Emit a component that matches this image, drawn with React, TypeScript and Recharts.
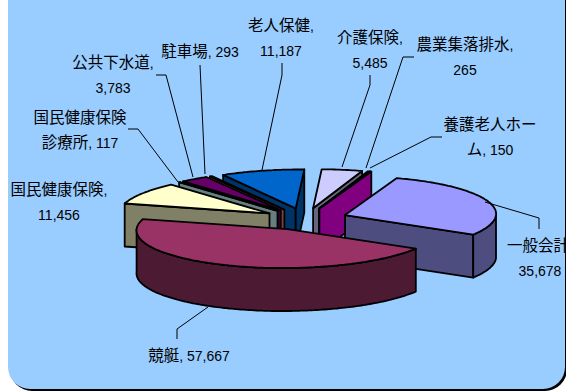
import React from "react";
import { PieChart, Pie } from "recharts";

// Municipal accounts, clockwise from the upper right of the pie
const names = [
  "一般会計",
  "競艇",
  "国民健康保険",
  "国民健康保険診療所",
  "公共下水道",
  "駐車場",
  "老人保健",
  "介護保険",
  "農業集落排水",
  "養護老人ホーム",
];
const amounts = [35678, 57667, 11456, 117, 3783, 293, 11187, 5485, 265, 150];
const topColors = ["#9999FF", "#993366", "#FFFFCC", "#CCFFFF", "#660066", "#FF8080", "#0066CC", "#CCCCFF", "#000080", "#FF00FF"];
const wallColors = ["#4D4D80", "#4D1A33", "#808066", "#668080", "#330033", "#804040", "#003366", "#666680", "#000040", "#800080"];

// Back slices are painted before the ones nearer the viewer
const paintOrder = [6, 7, 8, 9, 5, 4, 3, 2, 0, 1];

const rows = names.map((name, i) => ({
  name,
  value: amounts[i],
  top: topColors[i],
  wall: wallColors[i],
}));

// Label text lines and leader routes, indexed like the arrays above
const labelLines = [
  ["一般会計,", "35,678"],
  ["競艇, 57,667"],
  ["国民健康保険,", "11,456"],
  ["国民健康保険", "診療所, 117"],
  ["公共下水道,", "3,783"],
  ["駐車場, 293"],
  ["老人保健,", "11,187"],
  ["介護保険,", "5,485"],
  ["農業集落排水,", "265"],
  ["養護老人ホー", "ム, 150"],
];
const labelCenters = [
  [540, 246], [189, 356], [59, 190], [80, 118], [113, 63],
  [200, 52], [281, 26], [370, 38], [465, 45], [490, 125],
];
const leaderRoutes = [
  [[485, 202], [539, 218], [539, 229]],
  [[208, 307], [177, 329], [177, 339]],
  [],
  [[178, 182], [138, 129], [128, 129]],
  [[193, 177], [166, 75], [156, 75]],
  [[205, 174], [200, 65]],
  [[262, 170], [282, 75], [282, 63]],
  [[342, 167], [370, 85], [370, 75]],
  [[366, 168], [403, 57], [414, 57]],
  [[370, 168], [431, 137], [442, 137]],
];

const WIDTH = 566;
const HEIGHT = 392;
const CENTER_X = 305;
const CENTER_Y = 219;
const RADIUS = 151;
const TILT = 0.258;
const DEPTH = 43;
const EXPLODE = 0.28;
const SHEAR = 5;
const OUTLINE = 1.8;
const RAD = Math.PI / 180;

type Pt = [number, number];

function toPath(points: Pt[]) {
  return "M" + points.map(([x, y]) => `${x.toFixed(1)},${y.toFixed(1)}`).join("L") + "Z";
}

function Slice3D(props: any, only: number) {
  const { cx, cy, outerRadius, startAngle, endAngle, midAngle, payload } = props;
  if (rows[only].name !== payload?.name) return <g />;

  const shiftU = EXPLODE * Math.cos(midAngle * RAD);
  const shiftV = -EXPLODE * Math.sin(midAngle * RAD);
  const project = (u: number, v: number, z: number): Pt => [
    cx + outerRadius * u - SHEAR * v,
    cy + outerRadius * TILT * v + z,
  ];
  const rimPoint = (deg: number, z: number): Pt =>
    project(shiftU + Math.cos(deg * RAD), shiftV - Math.sin(deg * RAD), z);

  const steps = Math.max(2, Math.ceil(Math.abs(startAngle - endAngle)));
  const angles = Array.from({ length: steps + 1 }, (_, k) => startAngle + ((endAngle - startAngle) * k) / steps);

  const apexTop = project(shiftU, shiftV, 0);
  const apexBottom = project(shiftU, shiftV, DEPTH);

  const shared = { stroke: "#000", strokeWidth: OUTLINE, strokeLinejoin: "round" as const };
  const wall = (deg: number, key: string) => (
    <path key={key} d={toPath([apexTop, rimPoint(deg, 0), rimPoint(deg, DEPTH), apexBottom])} fill={payload.wall} {...shared} />
  );

  const facing = angles.filter((a) => Math.sin(a * RAD) <= 0);

  return (
    <g>
      {Math.cos(startAngle * RAD) < 0 && wall(startAngle, "start")}
      {Math.cos(endAngle * RAD) > 0 && wall(endAngle, "end")}
      {facing.length > 1 && (
        <path
          d={toPath([
            ...facing.map((a) => rimPoint(a, 0)),
            ...[...facing].reverse().map((a) => rimPoint(a, DEPTH)),
          ])}
          fill={payload.wall}
          {...shared}
        />
      )}
      <path d={toPath([apexTop, ...angles.map((a) => rimPoint(a, 0))])} fill={payload.top} {...shared} />
    </g>
  );
}

// Latin text runs a little smaller than the kanji beside it
function Runs({ text }: { text: string }) {
  const parts = text.match(/[0-9,. ]+|[^0-9,. ]+/g) ?? [];
  return (
    <>
      {parts.map((part, i) => (
        <tspan key={i} fontSize={/[0-9,. ]/.test(part[0]) ? 14 : 15.5}>
          {part}
        </tspan>
      ))}
    </>
  );
}

function SliceLabel(props: any) {
  const i = names.indexOf(props.name ?? props.payload?.name);
  if (i < 0) return <g />;
  const [x, y] = labelCenters[i];
  const route = leaderRoutes[i];
  return (
    <g>
      {route.length > 0 && (
        <polyline points={route.map((p) => p.join(",")).join(" ")} fill="none" stroke="#000" strokeWidth={1} />
      )}
      {labelLines[i].map((line, k) => (
        <text
          key={k}
          x={x}
          y={y + 5 + k * 24.5}
          textAnchor="middle"
          fill="#000"
          fontFamily="'Liberation Sans','Noto Sans CJK JP',sans-serif"
        >
          <Runs text={line} />
        </text>
      ))}
    </g>
  );
}

export default function App() {
  return (
    <div style={{ position: "absolute", left: 0, top: 0, width: WIDTH, height: HEIGHT, overflow: "hidden" }}>
      <div
        style={{
          position: "absolute",
          left: 8,
          top: -40,
          width: 557,
          height: 429,
          background: "#99CCFF",
          borderRadius: 22,
          boxShadow: "2px 2px 0 #000",
        }}
      />
      <PieChart
        width={WIDTH}
        height={HEIGHT}
        margin={{ top: 0, right: 0, bottom: 0, left: 0 }}
        style={{ position: "absolute", left: 0, top: 0 }}
      >
        {paintOrder.map((only) => (
          <Pie
            key={only}
            data={rows}
            dataKey="value"
            nameKey="name"
            cx={CENTER_X}
            cy={CENTER_Y}
            innerRadius={0}
            outerRadius={RADIUS}
            startAngle={71.8}
            endAngle={-288.2}
            paddingAngle={0}
            stroke="none"
            isAnimationActive={false}
            shape={(p: any) => Slice3D(p, only)}
            labelLine={false}
            label={only === paintOrder[paintOrder.length - 1] ? (p: any) => <SliceLabel {...p} /> : false}
          />
        ))}
      </PieChart>
    </div>
  );
}
